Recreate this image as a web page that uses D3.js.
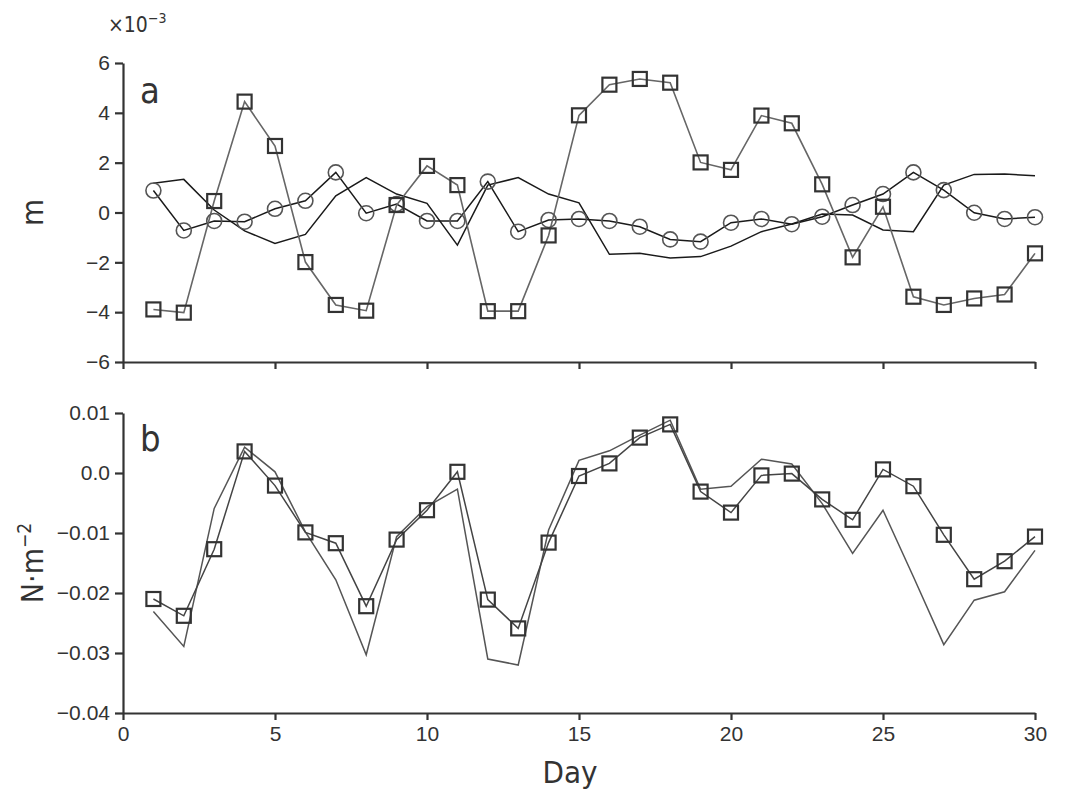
<!DOCTYPE html>
<html>
<head>
<meta charset="utf-8">
<script src="https://cdn.jsdelivr.net/npm/d3@7"></script>
<style>
  body { margin: 0; background: #fff; }
  svg { display: block; font-family: "Liberation Sans Narrow", "DejaVu Sans Condensed", "Liberation Sans", sans-serif; font-stretch: condensed; }
  .tick text { fill: #333; }
</style>
</head>
<body>
<div id="chart"></div>
<script>
// days 1..30
const days = d3.range(1, 31);

// panel a, values in 10^-3 m
const aSquares = [-3.89, -4.02, 0.46, 4.45, 2.67, -1.99, -3.71, -3.94, 0.30, 1.87,
  1.10, -3.96, -3.96, -0.92, 3.90, 5.13, 5.36, 5.21, 2.01, 1.71,
  3.89, 3.58, 1.13, -1.80, 0.23, -3.38, -3.71, -3.45, -3.29, -1.64];
const aCircles = [0.88, -0.72, -0.34, -0.37, 0.15, 0.47, 1.61, -0.03, 0.34, -0.34,
  -0.34, 1.24, -0.77, -0.30, -0.26, -0.34, -0.57, -1.08, -1.17, -0.41,
  -0.26, -0.47, -0.17, 0.30, 0.74, 1.61, 0.90, -0.01, -0.26, -0.19];
const aLine = [1.17, 1.33, 0.10, -0.74, -1.24, -0.88, 0.67, 1.40, 0.74, 0.37,
  -1.31, 1.10, 1.40, 0.74, 0.39, -1.68, -1.64, -1.83, -1.77, -1.35,
  -0.77, -0.46, -0.06, -0.10, -0.70, -0.77, 1.10, 1.53, 1.55, 1.47];

// panel b, N·m^-2
const bSquares = [-0.0210, -0.0238, -0.0127, 0.0036, -0.0021, -0.0099, -0.0117, -0.0222, -0.0111, -0.0062,
  0.0002, -0.0211, -0.0259, -0.0116, -0.0005, 0.0016, 0.0059, 0.0081, -0.0031, -0.0066,
  -0.0004, -0.0001, -0.0044, -0.0078, 0.0006, -0.0022, -0.0103, -0.0177, -0.0147, -0.0106];
const bLine = [-0.0231, -0.0289, -0.0059, 0.0043, 0.0002, -0.0098, -0.0178, -0.0303, -0.0106, -0.0056,
  -0.0027, -0.0310, -0.0320, -0.0095, 0.0021, 0.0037, 0.0063, 0.0088, -0.0027, -0.0022,
  0.0023, 0.0015, -0.0051, -0.0134, -0.0062, -0.0173, -0.0286, -0.0212, -0.0198, -0.0129];

const xTicks = [0, 5, 10, 15, 20, 25, 30];
const aTicks = [-6, -4, -2, 0, 2, 4, 6];
const bTicks = [0.01, 0.0, -0.01, -0.02, -0.03, -0.04];

const width = 1091, height = 798;
const left = 123, right = 1035;
const ink = "#333";

const svg = d3.select("#chart").append("svg")
  .attr("width", width)
  .attr("height", height);

const x = d3.scaleLinear().domain([0, 30]).range([left, right]);
const yA = d3.scaleLinear().domain([-6, 6]).range([362, 63]);
const yB = d3.scaleLinear().domain([-0.04, 0.01]).range([713, 413]);

function styleAxis(g) {
  g.select(".domain").attr("stroke", ink).attr("stroke-width", 2.2);
  g.selectAll(".tick line").attr("stroke", ink).attr("stroke-width", 2.2);
  g.selectAll(".tick text").attr("font-size", 21).attr("fill", ink);
}

// panel a axes
svg.append("g")
  .attr("transform", `translate(0,${yA(-6)})`)
  .call(d3.axisBottom(x).tickValues(xTicks).tickSize(7).tickFormat("").tickSizeOuter(0))
  .call(styleAxis);
svg.append("g")
  .attr("transform", `translate(${left},0)`)
  .call(d3.axisLeft(yA).tickValues(aTicks).tickSize(8).tickPadding(5).tickSizeOuter(0)
    .tickFormat(d => d < 0 ? "\u2212" + Math.abs(d) : d))
  .call(styleAxis);

// panel b axes
svg.append("g")
  .attr("transform", `translate(0,${yB(-0.04)})`)
  .call(d3.axisBottom(x).tickValues(xTicks).tickSize(7).tickPadding(6).tickSizeOuter(0))
  .call(styleAxis);
svg.append("g")
  .attr("transform", `translate(${left},0)`)
  .call(d3.axisLeft(yB).tickValues(bTicks).tickSize(8).tickPadding(5).tickSizeOuter(0)
    .tickFormat(d => {
      const s = d === 0 ? "0.0" : d3.format(".2f")(Math.abs(d));
      return d < 0 ? "\u2212" + s : s;
    }))
  .call(styleAxis);

// labels
svg.append("text")
  .attr("x", 108).attr("y", 32)
  .attr("font-size", 21).attr("fill", ink)
  .text("\u00d710")
  .append("tspan").attr("dy", -9).attr("font-size", 14).text("\u22123");

svg.append("text")
  .attr("transform", `translate(43,${yA(0)}) rotate(-90)`)
  .attr("text-anchor", "middle")
  .attr("font-size", 31).attr("fill", ink)
  .text("m");

const nm = svg.append("text")
  .attr("transform", `translate(43,${yB(-0.015)}) rotate(-90)`)
  .attr("text-anchor", "middle")
  .attr("font-size", 30).attr("fill", ink);
nm.append("tspan").text("N\u00b7m");
nm.append("tspan").attr("dy", -12).attr("font-size", 19).text("\u22122");

svg.append("text")
  .attr("x", (left + right) / 2 - 9).attr("y", 783)
  .attr("text-anchor", "middle")
  .attr("font-size", 31).attr("fill", ink)
  .text("Day");

svg.append("text")
  .attr("x", 140).attr("y", 103)
  .attr("font-size", 36).attr("fill", ink)
  .text("a");
svg.append("text")
  .attr("x", 140).attr("y", 451)
  .attr("font-size", 36).attr("fill", ink)
  .text("b");

// series drawing helpers
function drawLine(vals, y, color, w) {
  const line = d3.line().x((d, i) => x(days[i])).y(d => y(d));
  svg.append("path")
    .datum(vals)
    .attr("fill", "none")
    .attr("stroke", color)
    .attr("stroke-width", w)
    .attr("stroke-linejoin", "miter")
    .attr("d", line);
}
function drawSquares(vals, y) {
  const s = 14;
  svg.append("g").selectAll("rect")
    .data(vals)
    .join("rect")
    .attr("x", (d, i) => x(days[i]) - s / 2)
    .attr("y", d => y(d) - s / 2)
    .attr("width", s).attr("height", s)
    .attr("fill", "none")
    .attr("stroke", ink)
    .attr("stroke-width", 2.2);
}
function drawCircles(vals, y) {
  svg.append("g").selectAll("circle")
    .data(vals)
    .join("circle")
    .attr("cx", (d, i) => x(days[i]))
    .attr("cy", d => y(d))
    .attr("r", 7.5)
    .attr("fill", "none")
    .attr("stroke", "#555")
    .attr("stroke-width", 1.6);
}

// panel a
drawLine(aLine, yA, "#1a1a1a", 1.5);
drawLine(aCircles, yA, "#1a1a1a", 1.5);
drawLine(aSquares, yA, "#666", 1.6);
drawCircles(aCircles, yA);
drawSquares(aSquares, yA);

// panel b
drawLine(bLine, yB, "#555", 1.5);
drawLine(bSquares, yB, "#444", 1.5);
drawSquares(bSquares, yB);
</script>
</body>
</html>
